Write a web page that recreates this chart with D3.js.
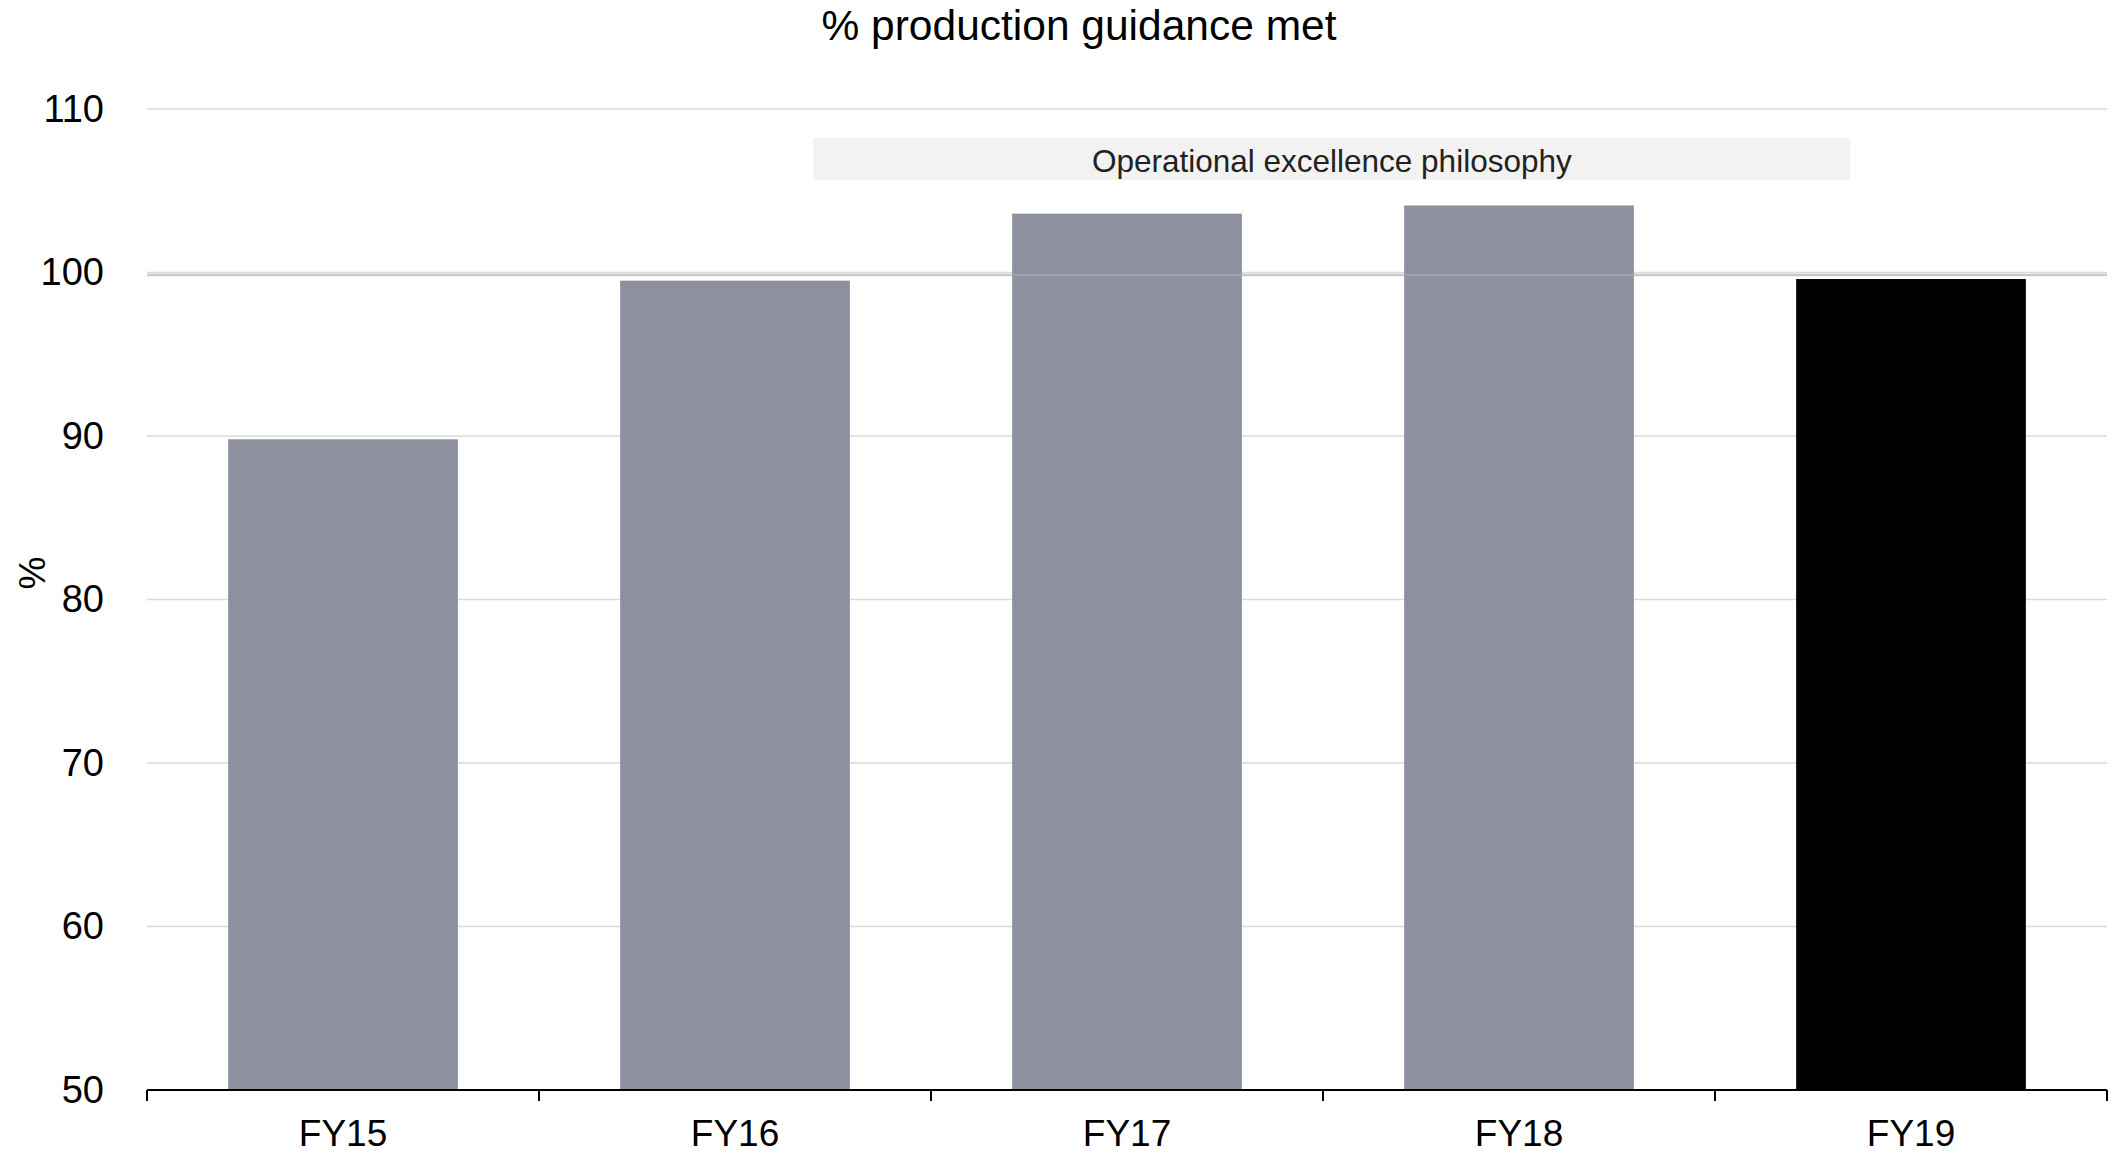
<!DOCTYPE html>
<html>
<head>
<meta charset="utf-8">
<script src="https://cdn.jsdelivr.net/npm/d3@7/dist/d3.min.js"></script>
<style>
  html, body { margin: 0; padding: 0; background: #fff; }
  svg { display: block; font-family: "Liberation Sans", Arial, sans-serif; }
</style>
</head>
<body>
<svg id="chart" width="2116" height="1154"></svg>
<script>
// Fiscal years and share of production guidance met (%)
const categories = ["FY15", "FY16", "FY17", "FY18", "FY19"];
const values = [89.8, 99.5, 103.6, 104.1, 99.6];
const barColors = ["#8d909e", "#8d909e", "#8d909e", "#8d909e", "#000000"];
const yTicks = [50, 60, 70, 80, 90, 100, 110];
const titleText = "% production guidance met";
const yLabel = "%";
// Period band annotation, spanning from within the FY16 band to within the FY19 band
const bandLabel = "Operational excellence philosophy";
const bandStart = ["FY16", 0.70];  // category, fraction across its band
const bandEnd = ["FY19", 0.345];
const referenceValue = 100;

const svg = d3.select("#chart");
const margin = { left: 147, right: 9, top: 109, bottom: 64 };
const W = 2116, H = 1154;

const x = d3.scaleBand()
  .domain(categories)
  .range([margin.left, W - margin.right])
  .paddingInner(0.414)
  .paddingOuter(0.207);

const xOuter = d3.scaleBand()
  .domain(categories)
  .range([margin.left, W - margin.right]);

const y = d3.scaleLinear()
  .domain([50, 110])
  .range([H - margin.bottom, margin.top]);

// Title
svg.append("text")
  .attr("x", 1079)
  .attr("y", 40)
  .attr("text-anchor", "middle")
  .attr("font-size", 42.5)
  .attr("fill", "#000")
  .text(titleText);

// Horizontal gridlines
svg.append("g")
  .selectAll("line")
  .data(yTicks.filter(t => t > 50))
  .join("line")
  .attr("x1", margin.left)
  .attr("x2", W - margin.right)
  .attr("y1", d => y(d))
  .attr("y2", d => y(d))
  .attr("stroke", "#d9d9d9")
  .attr("stroke-width", 1.5);

// Y tick labels
const yAxis = svg.append("g")
  .attr("transform", `translate(${margin.left},0)`)
  .call(d3.axisLeft(y).tickValues(yTicks).tickSize(0).tickPadding(43));
yAxis.select(".domain").remove();
yAxis.selectAll("text")
  .attr("font-size", 38)
  .attr("font-family", "\"Liberation Sans\", Arial, sans-serif")
  .attr("fill", "#000");

// Y axis title
svg.append("text")
  .attr("transform", `translate(45,${573}) rotate(-90)`)
  .attr("text-anchor", "middle")
  .attr("font-size", 37)
  .attr("fill", "#000")
  .text(yLabel);

// Period annotation band
const bx0 = xOuter(bandStart[0]) + xOuter.bandwidth() * bandStart[1];
const bx1 = xOuter(bandEnd[0]) + xOuter.bandwidth() * bandEnd[1];
svg.append("rect")
  .attr("x", bx0)
  .attr("y", 138)
  .attr("width", bx1 - bx0)
  .attr("height", 42)
  .attr("fill", "#f2f2f2");
svg.append("text")
  .attr("x", (bx0 + bx1) / 2)
  .attr("y", 172)
  .attr("text-anchor", "middle")
  .attr("font-size", 31.5)
  .attr("fill", "#222")
  .text(bandLabel);

// Bars
svg.append("g")
  .selectAll("rect")
  .data(categories.map((c, i) => ({ c, v: values[i], col: barColors[i] })))
  .join("rect")
  .attr("x", d => x(d.c))
  .attr("width", x.bandwidth())
  .attr("y", d => y(d.v))
  .attr("height", d => y(50) - y(d.v))
  .attr("fill", d => d.col);

// Reference line at 100%
svg.append("line")
  .attr("x1", margin.left)
  .attr("x2", W - margin.right)
  .attr("y1", y(referenceValue))
  .attr("y2", y(referenceValue))
  .attr("transform", "translate(0,2.5)")
  .attr("stroke", "rgba(171,171,171,0.65)")
  .attr("stroke-width", 2.5);

// X axis
const xAxis = svg.append("g")
  .attr("transform", `translate(0,${y(50)})`);
xAxis.append("line")
  .attr("x1", margin.left)
  .attr("x2", W - margin.right)
  .attr("stroke", "#000")
  .attr("stroke-width", 2);
xAxis.selectAll(".tickmark")
  .data(categories.map(c => xOuter(c)).concat([W - margin.right]))
  .join("line")
  .attr("class", "tickmark")
  .attr("x1", d => d)
  .attr("x2", d => d)
  .attr("y1", 0)
  .attr("y2", 11)
  .attr("stroke", "#000")
  .attr("stroke-width", 2);
xAxis.selectAll(".lbl")
  .data(categories)
  .join("text")
  .attr("class", "lbl")
  .attr("x", d => x(d) + x.bandwidth() / 2)
  .attr("y", 56)
  .attr("text-anchor", "middle")
  .attr("font-size", 37)
  .attr("fill", "#000")
  .text(d => d);
</script>
</body>
</html>
